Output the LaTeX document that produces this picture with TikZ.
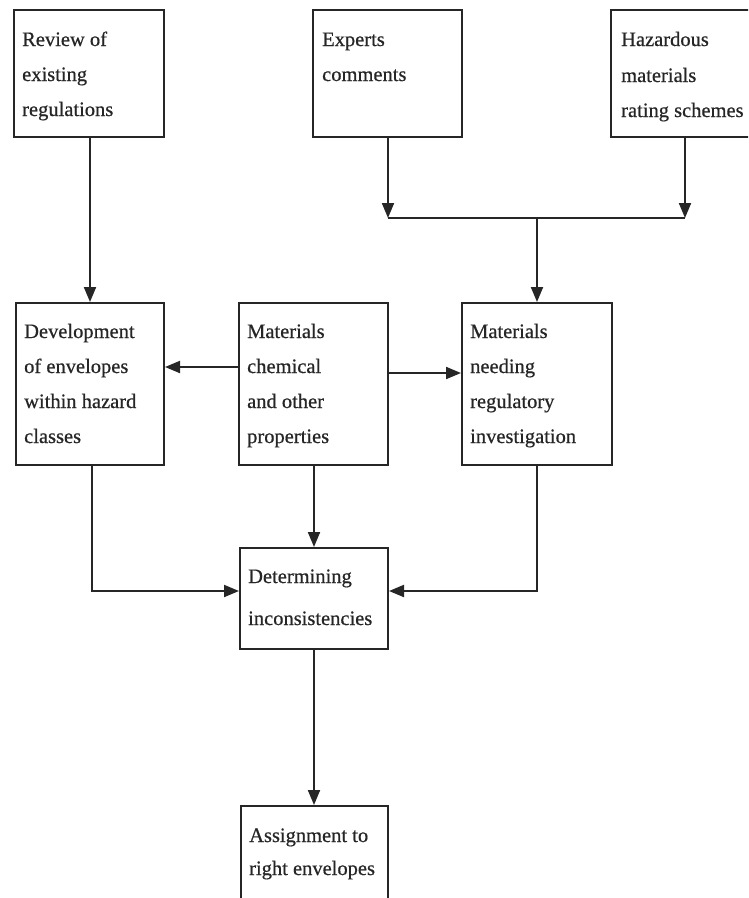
\documentclass[tikz,border=0pt]{standalone}
\usepackage{fontspec}
\setmainfont{Liberation Serif}
\newfontfamily\dfont[FakeBold=0.6]{Liberation Serif}
\usetikzlibrary{arrows.meta}
\begin{document}
\begin{tikzpicture}[x=1pt,y=-1pt,
  boxst/.style={draw=black!85,line width=2pt,inner sep=0pt,anchor=north west},
  txt/.style={inner sep=0pt,anchor=base west,font=\dfont\fontsize{20.5}{24}\selectfont,text=black!85},
  arr/.style={draw=black!85,line width=2pt,-{Triangle[length=15pt,width=12pt]}},
  ln/.style={draw=black!85,line width=2pt}]
\useasboundingbox (0,0) rectangle (748,898);
\clip (0,0) rectangle (748,898);
% boxes
\node[boxst,minimum width=150pt,minimum height=127pt] (b1) at (13,9) {};
\node[boxst,minimum width=149pt,minimum height=127pt] (b2) at (312,9) {};
\node[boxst,minimum width=150pt,minimum height=127pt] (b3) at (610,9) {};
\node[boxst,minimum width=148pt,minimum height=162pt] (b4) at (15,302) {};
\node[boxst,minimum width=149pt,minimum height=162pt] (b5) at (238,302) {};
\node[boxst,minimum width=150pt,minimum height=162pt] (b6) at (461,302) {};
\node[boxst,minimum width=148pt,minimum height=101pt] (b7) at (239,547) {};
\node[boxst,minimum width=147pt,minimum height=110pt] (b8) at (240,805) {};
% texts
\node[txt] (t1a) at (22,46) {Review of};
\node[txt] (t1b) at (22,81) {existing};
\node[txt] (t1c) at (22,116) {regulations};
\node[txt] (t2a) at (322,46) {Experts};
\node[txt] (t2b) at (322,81) {comments};
\node[txt] (t3a) at (621,46) {Hazardous};
\node[txt] (t3b) at (621,82) {materials};
\node[txt] (t3c) at (621,117) {rating schemes};
\node[txt] (t4a) at (24,338) {Development};
\node[txt] (t4b) at (24,373) {of envelopes};
\node[txt] (t4c) at (24,408) {within hazard};
\node[txt] (t4d) at (24,443) {classes};
\node[txt] (t5a) at (247,338) {Materials};
\node[txt] (t5b) at (247,373) {chemical};
\node[txt] (t5c) at (247,408) {and other};
\node[txt] (t5d) at (247,443) {properties};
\node[txt] (t6a) at (470,338) {Materials};
\node[txt] (t6b) at (470,373) {needing};
\node[txt] (t6c) at (470,408) {regulatory};
\node[txt] (t6d) at (470,443) {investigation};
\node[txt] (t7a) at (248,583) {Determining};
\node[txt] (t7b) at (248,625) {inconsistencies};
\node[txt] (t8a) at (249,842) {Assignment to};
\node[txt] (t8b) at (249,875) {right envelopes};
% junction
\coordinate (j) at (537,218);
\coordinate (jl) at (388,218);
\coordinate (jr) at (685,218);
% connectors
\draw[arr] (b1.south -| 90,0) -- (b4.north -| 90,0);
\draw[arr] (b2.south -| jl) -- (jl);
\draw[arr] (b3.south -| jr) -- (jr);
\draw[ln] (jl) -- (jr);
\draw[arr] (j) -- (b6.north -| j);
\draw[arr] (b5.west |- 0,367) -- (b4.east |- 0,367);
\draw[arr] (b5.east |- 0,373) -- (b6.west |- 0,373);
\draw[arr] (b5.south -| 314,0) -- (b7.north -| 314,0);
\draw[arr] (b4.south -| 92,0) |- (b7.west |- 0,591);
\draw[arr] (b6.south -| 537,0) |- (b7.east |- 0,591);
\draw[arr] (b7.south -| 314,0) -- (b8.north -| 314,0);
\end{tikzpicture}
\end{document}
